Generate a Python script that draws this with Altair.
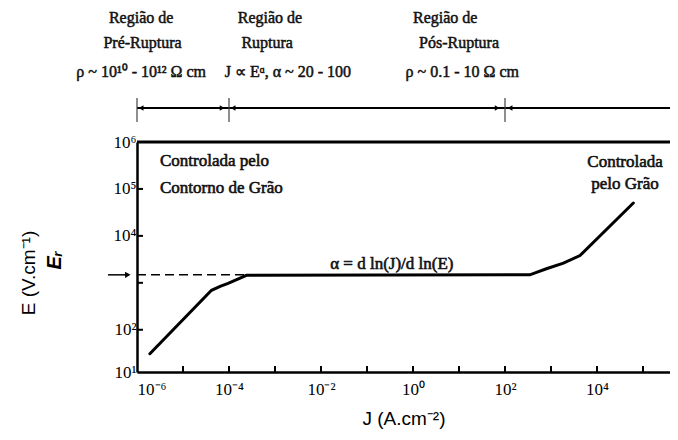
import altair as alt
import pandas as pd

# ---- data (log10 values) ----
curve_logJ = [-5.72, -4.38, -4.18, -4.02, -3.62, 2.54, 2.90, 3.27, 3.63, 4.79]
curve_logE = [1.49, 2.84, 2.93, 2.99, 3.16, 3.17, 3.30, 3.42, 3.58, 4.70]

x_label_exp = [-6, -4, -2, 0, 2, 4]
x_label_txt = ["10⁻⁶", "10⁻⁴", "10⁻²", "10⁰", "10²", "10⁴"]
x_tick_exp = [-5, -4, -3, -2, -1, 0, 1, 2, 3, 4, 5]

y_label_exp = [1, 2, 4, 5, 6]
y_label_txt = ["10¹", "10²", "10⁴", "10⁵", "10⁶"]
y_tick_exp = [2, 3, 4, 5]

plateau_logE = 3.17
dash_logJ = [-6.0, -3.62]

bar_logJ = [-6.0, -4.0, 2.0]
arrow_left_logJ = [-5.91, -3.91, 2.11]
arrow_right_logJ = [-4.15, 1.83]

region_txt = ["Região de", "Pré-Ruptura", "ρ ~ 10¹⁰ - 10¹² Ω cm",
              "Região de", "Ruptura", "J ∝ Eᵅ,  α ~ 20 - 100",
              "Região de", "Pós-Ruptura", "ρ ~ 0.1 - 10 Ω cm"]
region_logJ = [-5.91, -5.88, -5.91, -3.11, -3.17, -2.72, 0.70, 1.00, 1.07]
region_row = [0, 1, 2, 0, 1, 2, 0, 1, 2]

inner_txt = ["Controlada pelo", "Contorno de Grão", "Controlada", "pelo Grão", "α = d ln(J)/d ln(E)"]
inner_logJ = [-5.50, -5.50, 4.61, 4.61, -0.46]
inner_logE = [5.59, 5.03, 5.57, 5.10, 3.41]
inner_align = ["left", "left", "center", "center", "center"]

# ---- layout ----
W, H = 533, 230
XMIN, XMAX = -6.0, -6.0 + W / 46.0
YMIN, YMAX = 1.1, 6.0
row_y = [-124, -99, -70]
LINE_Y = -34

xs = alt.Scale(type="log", domain=[10 ** XMIN, 10 ** XMAX], nice=False)
ys = alt.Scale(type="log", domain=[10 ** YMIN, 10 ** YMAX], nice=False)
SERIF = "Liberation Serif"
SANS = "Liberation Sans"


def lab_expr(exps, txts):
    e = "''"
    for k, t in reversed(list(zip(exps, txts))):
        e = f"round(log(datum.value)/LN10) == {k} ? '{t}' : ({e})"
    return e


curve = pd.DataFrame({"J": [10 ** v for v in curve_logJ], "E": [10 ** v for v in curve_logE]})

line = alt.Chart(curve).mark_line(color="black", strokeWidth=3, strokeCap="round").encode(
    x=alt.X("J:Q", scale=xs,
            axis=alt.Axis(values=[10 ** v for v in x_label_exp], labelExpr=lab_expr(x_label_exp, x_label_txt),
                          ticks=False, grid=False, domainColor="black", domainWidth=2.5,
                          labelFont=SERIF, labelFontSize=17, labelColor="black", labelPadding=9,
                          title="J (A.cm⁻²)", titleFont=SANS, titleFontSize=19,
                          titleFontWeight="normal", titleColor="black", titlePadding=12)),
    y=alt.Y("E:Q", scale=ys,
            axis=alt.Axis(values=[10 ** v if v > YMIN else 10 ** YMIN for v in y_label_exp],
                          labelExpr=lab_expr(y_label_exp, y_label_txt),
                          ticks=False, grid=False, domainColor="black", domainWidth=2.5,
                          labelFont=SERIF, labelFontSize=17, labelColor="black", labelPadding=1,
                          title=None)),
    order=alt.Order("J:Q"),
)

dash = alt.Chart(pd.DataFrame({"J": [10 ** v for v in dash_logJ], "E": [10 ** plateau_logE] * 2})).mark_line(
    color="black", strokeWidth=1.5, strokeDash=[9, 5]).encode(x=alt.X("J:Q", scale=xs), y=alt.Y("E:Q", scale=ys))

arr_df = pd.DataFrame({"J": [10 ** -6.63], "J2": [10 ** -6.2], "E": [10 ** plateau_logE]})
arr_line = alt.Chart(arr_df).mark_rule(color="black", strokeWidth=1.5).encode(
    x=alt.X("J:Q", scale=xs), x2="J2:Q", y=alt.Y("E:Q", scale=ys))
arr_head = alt.Chart(arr_df).mark_point(shape="triangle-right", filled=True, color="black", size=40, opacity=1).encode(
    x=alt.X("J2:Q", scale=xs), y=alt.Y("E:Q", scale=ys))

xt = alt.Chart(pd.DataFrame({"J": [10 ** v for v in x_tick_exp]})).mark_rule(color="black", strokeWidth=2).encode(
    x=alt.X("J:Q", scale=xs), y=alt.value(H), y2=alt.value(H - 6))
yt = alt.Chart(pd.DataFrame({"E": [10 ** v for v in y_tick_exp]})).mark_rule(color="black", strokeWidth=2).encode(
    y=alt.Y("E:Q", scale=ys), x=alt.value(0), x2=alt.value(6))

top_border = alt.Chart(pd.DataFrame({"a": [0]})).mark_rule(color="black", strokeWidth=3).encode(
    x=alt.value(0), x2=alt.value(W), y=alt.value(0))

reg_line = alt.Chart(pd.DataFrame({"J": [10 ** XMIN], "J2": [10 ** XMAX]})).mark_rule(
    color="black", strokeWidth=2).encode(x=alt.X("J:Q", scale=xs), x2="J2:Q", y=alt.value(LINE_Y))
bars = alt.Chart(pd.DataFrame({"J": [10 ** v for v in bar_logJ]})).mark_rule(
    color="#444444", strokeWidth=1.2).encode(x=alt.X("J:Q", scale=xs), y=alt.value(LINE_Y - 10), y2=alt.value(LINE_Y + 14))
al = alt.Chart(pd.DataFrame({"J": [10 ** v for v in arrow_left_logJ]})).mark_point(
    shape="triangle-left", filled=True, color="black", size=30, opacity=1).encode(
    x=alt.X("J:Q", scale=xs), y=alt.value(LINE_Y))
ar = alt.Chart(pd.DataFrame({"J": [10 ** v for v in arrow_right_logJ]})).mark_point(
    shape="triangle-right", filled=True, color="black", size=30, opacity=1).encode(
    x=alt.X("J:Q", scale=xs), y=alt.value(LINE_Y))

reg_df = pd.DataFrame({"t": region_txt, "J": [10 ** v for v in region_logJ],
                       "yp": [row_y[r] for r in region_row]})
reg_text = alt.Chart(reg_df).mark_text(font=SERIF, fontSize=16, color="#111111", stroke="#111111",
                                       strokeWidth=0.5, baseline="middle", align="center").encode(
    x=alt.X("J:Q", scale=xs), y=alt.Y("yp:Q", scale=None), text="t:N")

inner_df = pd.DataFrame({"t": inner_txt, "J": [10 ** v for v in inner_logJ],
                         "E": [10 ** v for v in inner_logE], "al": inner_align})
inner_layers = []
for a in ["left", "center"]:
    inner_layers.append(alt.Chart(inner_df[inner_df.al == a]).mark_text(
        font=SERIF, fontSize=17, color="#111111", stroke="#111111", strokeWidth=0.6,
        baseline="middle", align=a).encode(
        x=alt.X("J:Q", scale=xs), y=alt.Y("E:Q", scale=ys), text="t:N"))

ytitle = alt.Chart(pd.DataFrame({"t": ["E (V.cm⁻¹)"], "xp": [-108], "yp": [131]})).mark_text(
    font=SANS, fontSize=19, angle=270, color="black", baseline="middle", align="center").encode(
    x=alt.X("xp:Q", scale=None), y=alt.Y("yp:Q", scale=None), text="t:N")
ytitle2 = alt.Chart(pd.DataFrame({"t": ["Eᵣ"], "xp": [-82], "yp": [118]})).mark_text(
    font=SANS, fontSize=20, angle=270, fontStyle="italic", fontWeight="bold", color="black",
    baseline="middle", align="center").encode(
    x=alt.X("xp:Q", scale=None), y=alt.Y("yp:Q", scale=None), text="t:N")

chart = alt.layer(
    line, dash, arr_line, arr_head, xt, yt, top_border, reg_line, bars, al, ar, reg_text,
    *inner_layers, ytitle, ytitle2
).properties(
    width=W, height=H,
    autosize=alt.AutoSizeParams(type="none"),
    padding={"left": 129, "top": 134, "right": 0, "bottom": 60},
).configure_view(stroke=None)

chart.save("out.html", embed_options={"renderer": "svg", "actions": False})
